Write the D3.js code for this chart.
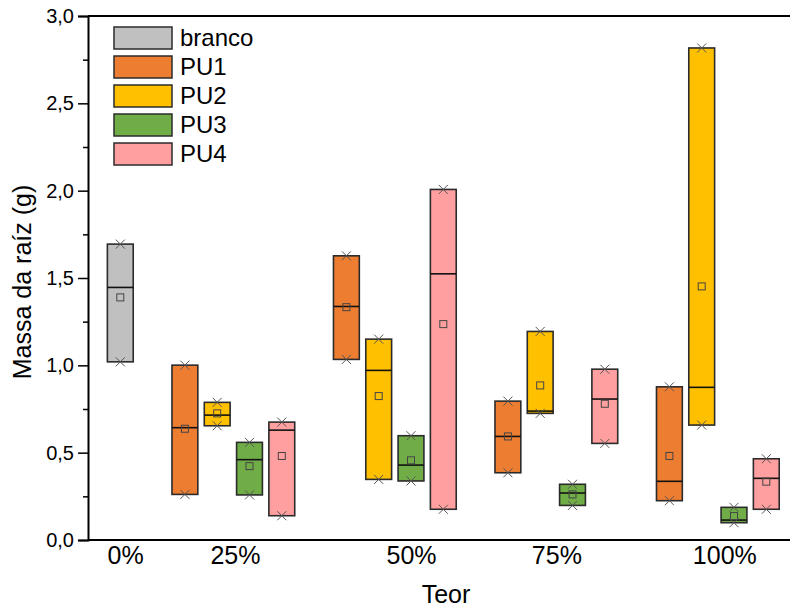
<!DOCTYPE html>
<html>
<head>
<meta charset="utf-8">
<script src="https://cdn.jsdelivr.net/npm/d3@7"></script>
<style>
  body { margin: 0; background: #fff; }
  svg { display: block; font-family: "Liberation Sans", Arial, sans-serif; }
</style>
</head>
<body>
<svg id="chart" width="790" height="608"></svg>
<script>
// categories
const groups = ["0%", "25%", "50%", "75%", "100%"];
const series = ["branco", "PU1", "PU2", "PU3", "PU4"];
const colors = ["#C0C0C0", "#ED7D31", "#FFC000", "#70AD47", "#FF9F9F"];

// values per series, one per group (null = no box)
const maxima = {
    branco: [1.694, null, null, null, null],
    PU1: [null, 1.001, 1.627, 0.795, 0.877],
    PU2: [null, 0.788, 1.150, 1.194, 2.817],
    PU3: [null, 0.559, 0.597, 0.319, 0.187],
    PU4: [null, 0.675, 2.007, 0.978, 0.465]
};
const minima = {
    branco: [1.020, null, null, null, null],
    PU1: [null, 0.261, 1.034, 0.385, 0.225],
    PU2: [null, 0.654, 0.347, 0.725, 0.658],
    PU3: [null, 0.258, 0.338, 0.198, 0.099],
    PU4: [null, 0.139, 0.176, 0.553, 0.176]
};
const medians = {
    branco: [1.446, null, null, null, null],
    PU1: [null, 0.643, 1.337, 0.593, 0.336],
    PU2: [null, 0.715, 0.971, 0.738, 0.874],
    PU3: [null, 0.460, 0.429, 0.269, 0.114],
    PU4: [null, 0.629, 1.524, 0.807, 0.353]
};
const means = {
    branco: [1.389, null, null, null, null],
    PU1: [null, 0.637, 1.333, 0.593, 0.481],
    PU2: [null, 0.725, 0.824, 0.885, 1.452],
    PU3: [null, 0.423, 0.456, 0.261, 0.137],
    PU4: [null, 0.481, 1.236, 0.780, 0.334]
};

// tick labels and their slot positions on the x axis
const yTicks = [0, 0.5, 1.0, 1.5, 2.0, 2.5, 3.0];
const yMinor = [0.25, 0.75, 1.25, 1.75, 2.25, 2.75];
const xTickSlots = [0.15, 3.55, 9.0, 13.5, 18.7];

const margin = { top: 16, left: 88 };

const svg = d3.select("#chart");

// lay boxes out in consecutive slots, leaving one empty slot between groups
const boxes = [];
let slot = 0;
groups.forEach((g, gi) => {
    series.forEach((s, si) => {
        if (maxima[s][gi] == null) return;
        boxes.push({
            group: g, series: s, color: colors[si], slot: slot,
            max: maxima[s][gi], min: minima[s][gi],
            median: medians[s][gi], mean: means[s][gi]
        });
        slot++;
    });
    slot++;
});

const xScale = d3.scaleLinear().domain([-1, 21]).range([margin.left, 798.6]);
const yScale = d3.scaleLinear().domain([0, 3]).range([540, margin.top]);
const step = xScale(1) - xScale(0);
const boxW = step * 0.8;

// top frame line
svg.append("line").attr("x1", margin.left).attr("x2", 790).attr("y1", margin.top).attr("y2", margin.top)
    .attr("stroke", "#000").attr("stroke-width", 2);

const container = svg.append("g");

container.selectAll("rect.box")
    .data(boxes)
    .join("rect")
    .attr("class", "box")
    .attr("x", d => xScale(d.slot) - boxW / 2)
    .attr("y", d => yScale(d.max))
    .attr("width", boxW)
    .attr("height", d => yScale(d.min) - yScale(d.max))
    .attr("fill", d => d.color)
    .attr("stroke", "#2b2b2b")
    .attr("stroke-width", 1.6);

container.selectAll("line.median")
    .data(boxes)
    .join("line")
    .attr("class", "median")
    .attr("x1", d => xScale(d.slot) - boxW / 2)
    .attr("x2", d => xScale(d.slot) + boxW / 2)
    .attr("y1", d => yScale(d.median))
    .attr("y2", d => yScale(d.median))
    .attr("stroke", "#111")
    .attr("stroke-width", 1.6);

container.selectAll("rect.mean")
    .data(boxes)
    .join("rect")
    .attr("class", "mean")
    .attr("x", d => xScale(d.slot) - 3.5)
    .attr("y", d => yScale(d.mean) - 3.5)
    .attr("width", 7)
    .attr("height", 7)
    .attr("fill", "none")
    .attr("stroke", "#444")
    .attr("stroke-width", 1);

// min / max crosses
const ends = boxes.flatMap(d => [{ slot: d.slot, v: d.max }, { slot: d.slot, v: d.min }]);
const cross = 4.5;
container.selectAll("path.cross")
    .data(ends)
    .join("path")
    .attr("class", "cross")
    .attr("d", d => {
        const cx = xScale(d.slot), cy = yScale(d.v);
        return `M${cx - cross},${cy - cross}L${cx + cross},${cy + cross}M${cx - cross},${cy + cross}L${cx + cross},${cy - cross}`;
    })
    .attr("stroke", "#555")
    .attr("stroke-width", 1);

// y axis
const yAxis = svg.append("g")
    .attr("transform", `translate(${margin.left},0)`)
    .call(d3.axisLeft(yScale).tickValues(yTicks).tickSize(10).tickPadding(4)
        .tickFormat(d => d.toFixed(1).replace(".", ",")));
yAxis.select(".domain").attr("stroke-width", 2);
yAxis.selectAll(".tick line").attr("stroke-width", 1.5);
yAxis.selectAll("text").style("font-size", "20px").attr("fill", "#000");

const yAxisMinor = svg.append("g")
    .attr("transform", `translate(${margin.left},0)`)
    .call(d3.axisLeft(yScale).tickValues(yMinor).tickSize(5).tickFormat(""));
yAxisMinor.select(".domain").remove();
yAxisMinor.selectAll(".tick line").attr("stroke-width", 1.5);

// x axis
const xAxis = svg.append("g")
    .attr("transform", `translate(0,540)`)
    .call(d3.axisBottom(xScale).tickValues(xTickSlots).tickSize(0).tickPadding(6)
        .tickFormat((d, i) => groups[i]));
xAxis.select(".domain").attr("d", `M${margin.left},0H790`).attr("stroke-width", 2);
xAxis.selectAll("text").style("font-size", "25px").attr("fill", "#000");

// axis titles
svg.append("text")
    .attr("x", 446).attr("y", 603)
    .attr("text-anchor", "middle")
    .style("font-size", "25px")
    .text("Teor");

svg.append("text")
    .attr("transform", `translate(31,${(margin.top + 540) / 2 + 4}) rotate(-90)`)
    .attr("text-anchor", "middle")
    .style("font-size", "25px")
    .text("Massa da raíz (g)");

// legend
const legend = svg.append("g").attr("transform", "translate(114,27)");
const rows = legend.selectAll("g")
    .data(series)
    .join("g")
    .attr("transform", (d, i) => `translate(0,${i * 29})`);
rows.append("rect")
    .attr("width", 58).attr("height", 22)
    .attr("fill", (d, i) => colors[i])
    .attr("stroke", "#2b2b2b").attr("stroke-width", 1.5);
rows.append("text")
    .attr("x", 66).attr("y", 19)
    .style("font-size", "24px")
    .text(d => d);
</script>
</body>
</html>
